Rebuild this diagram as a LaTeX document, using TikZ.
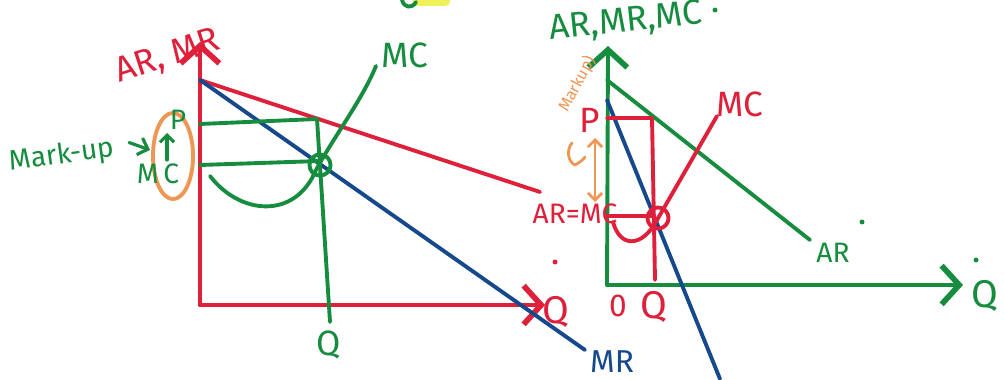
\documentclass[tikz,border=0pt]{standalone}
\usepackage{fontspec}
\setmainfont{Fira Sans}
\usetikzlibrary{arrows.meta,shapes.geometric}
\definecolor{pred}{RGB}{222,32,58}
\definecolor{pgreen}{RGB}{22,140,62}
\definecolor{pblue}{RGB}{22,72,140}
\definecolor{porange}{RGB}{240,150,85}
\definecolor{pyellow}{RGB}{240,240,90}
\begin{document}
\begin{tikzpicture}[x=0.01cm,y=-0.01cm,line cap=round,line join=round,
  ln/.style={line width=1.1pt},
  axarrow/.style={-{Straight Barb[length=5pt,width=11pt,line width=1.6pt]}},
  lbl/.style={inner sep=0pt,font=\fontsize{10}{10}\selectfont},
  midlbl/.style={inner sep=0pt,font=\fontsize{9}{9}\selectfont},
  biglbl/.style={inner sep=0pt,font=\fontsize{11}{11}\selectfont},
  smlbl/.style={inner sep=0pt,font=\fontsize{8}{8}\selectfont},
  tinylbl/.style={inner sep=0pt,font=\fontsize{4.6}{4.6}\selectfont},
  dot/.style={circle,fill,inner sep=0.5pt}]
\useasboundingbox (0,0) rectangle (1004,379);

% ---------- left diagram ----------
\coordinate (LO) at (200,305);
\coordinate (LY) at (200,42);
\coordinate (LX) at (545,305);
\coordinate (LA) at (200,80);
\coordinate (LARend) at (540,192);
\coordinate (LMRend) at (585,350);
\coordinate (LPl) at (200,124);
\coordinate (LPr) at (317,119);
\coordinate (LCl) at (200,165);
\coordinate (LCr) at (320,161);
\coordinate (LQb) at (330,322);

\draw[pred,ln,axarrow] (LO) -- (LY);
\draw[pred,ln,axarrow] (LO) -- (LX);
\draw[pred,ln] (LA) -- (LARend);
\draw[pblue,ln] (LA) -- (LMRend);
\draw[pgreen,ln] (LPl) -- (LPr);
\draw[pgreen,ln] (LCl) -- (LCr);
\draw[pgreen,ln] (LPr) -- (LQb);
\draw[pgreen,ln] (210,176) .. controls (240,215) and (295,220) .. (316,170)
   .. controls (335,135) and (362,100) .. (376,66);
\node[draw=pgreen,ln,circle,minimum size=6pt,inner sep=0pt] (LE) at (320,165) {};
\node[draw=porange,ln,ellipse,minimum width=11.4pt,minimum height=24.5pt,inner sep=0pt] (LEll) at (173,156) {};

\node[lbl,pred,rotate=18] (LYlbl) at (168,57) {AR, MR};
\node[lbl,pgreen] (LMC) at (405,55) {MC};
\node[midlbl,pblue] (LMR) at (612,362) {MR};
\node[lbl,pgreen] (LQ) at (329,345) {Q};
\node[biglbl,pred] (LXQ) at (556,312) {Q};
\node[smlbl,pgreen] (LP) at (178,120) {P};
\node[smlbl,pgreen] (LMCl) at (158,174) {M\,C};
\draw[pgreen,line width=0.9pt,-{Straight Barb[length=2pt,width=4pt]}] (167,160) -- (167,133);
\node[smlbl,pgreen,rotate=8] (Lmark) at (62,156) {Mark-up};
\coordinate (Larr) at (150,150);
\draw[pgreen,line width=0.9pt,-{Straight Barb[length=2.5pt,width=5pt]}] (Lmark.east) ++(14,-6) -- (Larr);
\node[dot,pred] at (555,262) {};

% ---------- right diagram ----------
\coordinate (RO) at (607,285);
\coordinate (RY) at (608,46);
\coordinate (RX) at (963,285);
\coordinate (RA) at (607,80);
\coordinate (RARend) at (810,240);
\coordinate (RM) at (607,100);
\coordinate (RMRend) at (720,379);
\coordinate (RPl) at (607,118);
\coordinate (RPr) at (652,118);
\coordinate (RQt) at (655,280);
\coordinate (RCl) at (607,216);
\coordinate (RCr) at (652,216);

\draw[pgreen,ln,axarrow] (RO) -- (RY);
\draw[pgreen,ln,axarrow] (RO) -- (RX);
\draw[pgreen,ln] (RA) -- (RARend);
\draw[pblue,ln] (RM) -- (RMRend);
\draw[pred,ln] (RPl) -- (RPr) -- (RQt);
\draw[pred,ln] (RCl) -- (RCr);
\draw[pred,ln] (613,222) .. controls (620,248) and (642,248) .. (657,220) -- (717,116);
\node[draw=pred,ln,circle,minimum size=6pt,inner sep=0pt] (RE) at (658,218) {};

\node[lbl,pgreen,rotate=6] (RYlbl) at (626,22) {AR,MR,MC};
\node[lbl,pred] (RMC) at (740,104) {MC};
\node[smlbl,pgreen] (RAR) at (833,253) {AR};
\node[biglbl,pgreen] (RXQ) at (985,296) {Q};
\node[midlbl,pred] (R0) at (618,306) {0};
\node[biglbl,pred] (RQ) at (654,307) {Q};
\node[lbl,pred] (RP) at (590,120) {P};
\node[smlbl,pred] (RARMC) at (575,214) {AR=MC};
\node[tinylbl,porange,rotate=62] (Rmark) at (577,84) {Markup)};
\draw[porange,line width=0.8pt,{Straight Barb[length=2pt,width=4pt]}-{Straight Barb[length=2pt,width=4pt]}] (595,138) -- (595,202);
\draw[porange,line width=0.8pt] (572,143) .. controls (566,150) and (568,162) .. (575,165)
  .. controls (580,162) and (583,160) .. (585,157);
\node[dot,pgreen] at (862,222) {};
\node[dot,pgreen] at (976,260) {};
\node[dot,pgreen] at (715,10) {};

% ---------- top marks ----------
\draw[pyellow,line width=3pt] (418,1) -- (445,1);
\draw[pgreen,ln] (402,0) .. controls (404,8) and (412,9) .. (416,2);
\end{tikzpicture}
\end{document}
